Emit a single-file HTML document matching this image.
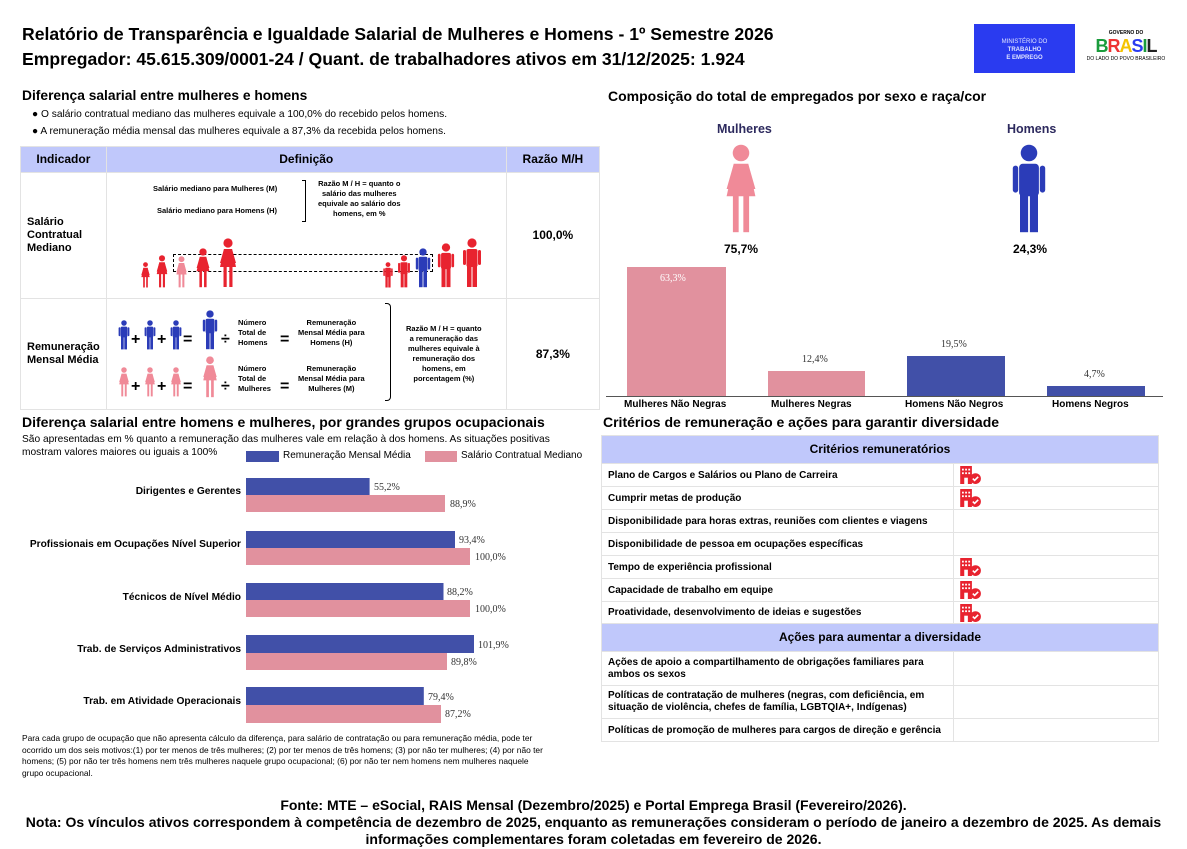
<!DOCTYPE html>
<html><head><meta charset="utf-8"><style>
*{margin:0;padding:0;box-sizing:border-box}
body{width:1187px;height:849px;background:#fff;font-family:"Liberation Sans",Arial,sans-serif;color:#000;position:relative;overflow:hidden}
.a{position:absolute;white-space:nowrap}
.b{font-weight:bold}
table{border-collapse:collapse;position:absolute}
td{border:1px solid #e3e3e3;font-size:10px;font-weight:bold;padding:0 6px;line-height:11px}
td svg{display:block}
.h{background:#c0c8fb;text-align:center;font-size:12px}
</style></head><body>
<svg width="0" height="0" style="position:absolute"><defs>
<symbol id="w" viewBox="0 0 20 50"><circle cx="10" cy="5" r="4.6"/><path d="M6 11h8l4 18h-4v0h-12l4-18z"/><rect x="5.5" y="28" width="3.2" height="21"/><rect x="11.3" y="28" width="3.2" height="21"/><path d="M6 11l-4 14h2.5l3.5-12zM14 11l4 14h-2.5l-3.5-12z"/></symbol>
<symbol id="m" viewBox="0 0 20 50"><circle cx="10" cy="5" r="4.6"/><rect x="4.5" y="11" width="11" height="18" rx="2"/><rect x="1" y="12" width="3" height="15" rx="1.5"/><rect x="16" y="12" width="3" height="15" rx="1.5"/><rect x="5" y="28" width="4.5" height="21"/><rect x="10.5" y="28" width="4.5" height="21"/></symbol>
<symbol id="bd" viewBox="0 0 24 20"><rect x="0" y="0" width="13" height="20" fill="#e8232f"/><g fill="#fff"><rect x="2" y="3" width="2" height="2"/><rect x="5.5" y="3" width="2" height="2"/><rect x="9" y="3" width="2" height="2"/><rect x="2" y="7" width="2" height="2"/><rect x="5.5" y="7" width="2" height="2"/><rect x="9" y="7" width="2" height="2"/><rect x="4.5" y="13" width="4" height="7"/></g><circle cx="17" cy="14" r="6" fill="#e8232f"/><path d="M14 14l2 2 4-4" stroke="#fff" stroke-width="1.8" fill="none"/></symbol>
</defs></svg>

<div class="a b" style="left:22px;top:24px;font-size:17.6px">Relatório de Transparência e Igualdade Salarial de Mulheres e Homens - 1º Semestre 2026</div>
<div class="a b" style="left:22px;top:49px;font-size:17.6px">Empregador: 45.615.309/0001-24 / Quant. de trabalhadores ativos em 31/12/2025: 1.924</div>
<div class="a" style="left:974px;top:24px;width:101px;height:49px;background:#2a3bf0;color:#dfe3ff;font-size:6px;text-align:center;line-height:8px;padding-top:14px">MINISTÉRIO DO<br><b>TRABALHO<br>E EMPREGO</b></div>
<div class="a" style="left:1076px;top:24px;width:100px;height:49px;text-align:center;font-size:5px;font-weight:bold">
<div style="margin-top:6px">GOVERNO DO</div>
<div style="font-size:18px;line-height:20px;letter-spacing:-1px;color:#1a9c3c">B<span style="color:#e33">R</span><span style="color:#f5c400">A</span><span style="color:#2a3bf0">S</span>I<span style="color:#222">L</span></div>
<div style="font-weight:normal">DO LADO DO POVO BRASILEIRO</div></div>

<div class="a b" style="left:22px;top:88px;font-size:13.8px">Diferença salarial entre mulheres e homens</div>
<div class="a" style="left:32px;top:109px;font-size:10.2px">● O salário contratual mediano das mulheres equivale a 100,0% do recebido pelos homens.</div>
<div class="a" style="left:32px;top:126px;font-size:10.2px">● A remuneração média mensal das mulheres equivale a 87,3% da recebida pelos homens.</div>

<table style="left:20px;top:146px;width:580px;height:264px">
<tr style="height:26px"><td class="h" style="width:83px">Indicador</td><td class="h" style="width:400px">Definição</td><td class="h">Razão M/H</td></tr>
<tr style="height:126px"><td style="font-size:11px;line-height:13px">Salário<br>Contratual<br>Mediano</td><td></td><td style="text-align:center;font-size:12px">100,0%</td></tr>
<tr><td style="font-size:11px;line-height:13px">Remuneração<br>Mensal Média</td><td></td><td style="text-align:center;font-size:12px">87,3%</td></tr>
</table>
<div class="a b" style="left:153px;top:184px;font-size:7.5px">Salário mediano para Mulheres (M)</div>
<div class="a b" style="left:157px;top:206px;font-size:7.5px">Salário mediano para Homens (H)</div>
<div class="a" style="left:302px;top:180px;width:4px;height:42px;border:1px solid #000;border-left:none"></div>
<div class="a b" style="left:318px;top:179px;font-size:7.5px;text-align:center;line-height:10px">Razão M / H = quanto o<br>salário das mulheres<br>equivale ao salário dos<br>homens, em %</div>
<div class="a" style="left:173px;top:254px;width:260px;height:18px;border:1px dashed #000"></div>
<svg class="a" style="left:130px;top:238px" width="370" height="50">
<g fill="#e8232f"><use href="#w" x="10" y="24" width="11" height="26"/><use href="#w" x="25" y="17" width="14" height="33"/></g>
<use href="#w" x="44" y="18" width="15" height="32" fill="#f08a98"/>
<g fill="#e8232f"><use href="#w" x="63" y="10" width="20" height="40"/><use href="#w" x="86" y="0" width="24" height="50"/>
<use href="#m" x="252" y="24" width="12" height="26"/><use href="#m" x="267" y="17" width="14" height="33"/></g>
<use href="#m" x="284" y="10" width="18" height="40" fill="#2b3cb8"/>
<g fill="#e8232f"><use href="#m" x="305" y="5" width="22" height="45"/><use href="#m" x="329" y="0" width="26" height="50"/></g>
</svg>
<svg class="a" style="left:115px;top:310px" width="280" height="90" font-family="Liberation Sans" font-weight="bold">
<g fill="#2b3cb8"><use href="#m" x="3" y="10" width="12" height="30"/><use href="#m" x="29" y="10" width="12" height="30"/><use href="#m" x="55" y="10" width="12" height="30"/><use href="#m" x="84" y="0" width="22" height="40"/></g>
<g fill="#f08a98"><use href="#w" x="3" y="57" width="12" height="30"/><use href="#w" x="29" y="57" width="12" height="30"/><use href="#w" x="55" y="57" width="12" height="30"/><use href="#w" x="84" y="46" width="22" height="42"/></g>
<g font-size="16"><text x="16" y="34">+</text><text x="42" y="34">+</text><text x="68" y="34">=</text><text x="106" y="34">÷</text><text x="165" y="34">=</text>
<text x="16" y="81">+</text><text x="42" y="81">+</text><text x="68" y="81">=</text><text x="106" y="81">÷</text><text x="165" y="81">=</text></g>
</svg>
<div class="a b" style="left:238px;top:318px;font-size:7.5px;line-height:10px">Número<br>Total de<br>Homens</div>
<div class="a b" style="left:238px;top:364px;font-size:7.5px;line-height:10px">Número<br>Total de<br>Mulheres</div>
<div class="a b" style="left:298px;top:318px;font-size:7.5px;line-height:10px;text-align:center">Remuneração<br>Mensal Média para<br>Homens (H)</div>
<div class="a b" style="left:298px;top:364px;font-size:7.5px;line-height:10px;text-align:center">Remuneração<br>Mensal Média para<br>Mulheres (M)</div>
<div class="a" style="left:385px;top:303px;width:6px;height:98px;border:1px solid #000;border-left:none;border-radius:0 4px 4px 0"></div>
<div class="a b" style="left:406px;top:324px;font-size:7.5px;line-height:10px;text-align:center">Razão M / H = quanto<br>a remuneração das<br>mulheres equivale à<br>remuneração dos<br>homens, em<br>porcentagem (%)</div>

<div class="a b" style="left:608px;top:88px;font-size:14px">Composição do total de empregados por sexo e raça/cor</div>
<div class="a b" style="left:717px;top:122px;font-size:12.5px;color:#2d2a5e">Mulheres</div>
<div class="a b" style="left:1007px;top:122px;font-size:12.5px;color:#2d2a5e">Homens</div>
<svg class="a" style="left:716px;top:144px" width="50" height="90"><use href="#w" x="0" y="0" width="50" height="90" fill="#f08a98"/></svg>
<svg class="a" style="left:1004px;top:144px" width="50" height="90"><use href="#m" x="0" y="0" width="50" height="90" fill="#2b3cb8"/></svg>
<div class="a b" style="left:724px;top:242px;font-size:12px">75,7%</div>
<div class="a b" style="left:1013px;top:242px;font-size:12px">24,3%</div>
<div class="a" style="left:627px;top:267px;width:99px;height:129px;background:#e1919e"></div>
<div class="a" style="left:768px;top:371px;width:97px;height:25px;background:#e1919e"></div>
<div class="a" style="left:907px;top:356px;width:98px;height:40px;background:#4150a8"></div>
<div class="a" style="left:1047px;top:386px;width:98px;height:10px;background:#4150a8"></div>
<div class="a" style="left:606px;top:396px;width:557px;height:1px;background:#555"></div>
<div class="a" style="left:660px;top:273px;font-size:10px;color:#fff;font-family:'Liberation Serif',serif">63,3%</div>
<div class="a" style="left:802px;top:354px;font-size:10px;color:#333;font-family:'Liberation Serif',serif">12,4%</div>
<div class="a" style="left:941px;top:339px;font-size:10px;color:#333;font-family:'Liberation Serif',serif">19,5%</div>
<div class="a" style="left:1084px;top:369px;font-size:10px;color:#333;font-family:'Liberation Serif',serif">4,7%</div>
<div class="a b" style="left:624px;top:399px;font-size:10px">Mulheres Não Negras</div>
<div class="a b" style="left:771px;top:399px;font-size:10px">Mulheres Negras</div>
<div class="a b" style="left:905px;top:399px;font-size:10px">Homens Não Negros</div>
<div class="a b" style="left:1052px;top:399px;font-size:10px">Homens Negros</div>

<div class="a b" style="left:603px;top:414px;font-size:14px">Critérios de remuneração e ações para garantir diversidade</div>
<table style="left:601px;top:435px;width:558px">
<tr style="height:28px"><td colspan="2" class="h">Critérios remuneratórios</td></tr>
<tr style="height:23px"><td style="width:352px">Plano de Cargos e Salários ou Plano de Carreira</td><td><svg width="22" height="18"><use href="#bd"/></svg></td></tr>
<tr style="height:23px"><td>Cumprir metas de produção</td><td><svg width="22" height="18"><use href="#bd"/></svg></td></tr>
<tr style="height:23px"><td>Disponibilidade para horas extras, reuniões com clientes e viagens</td><td></td></tr>
<tr style="height:23px"><td>Disponibilidade de pessoa em ocupações específicas</td><td></td></tr>
<tr style="height:23px"><td>Tempo de experiência profissional</td><td><svg width="22" height="18"><use href="#bd"/></svg></td></tr>
<tr style="height:23px"><td>Capacidade de trabalho em equipe</td><td><svg width="22" height="18"><use href="#bd"/></svg></td></tr>
<tr style="height:22px"><td>Proatividade, desenvolvimento de ideias e sugestões</td><td><svg width="22" height="18"><use href="#bd"/></svg></td></tr>
<tr style="height:28px"><td colspan="2" class="h">Ações para aumentar a diversidade</td></tr>
<tr style="height:34px"><td style="white-space:normal;line-height:12px">Ações de apoio a compartilhamento de obrigações familiares para ambos os sexos</td><td></td></tr>
<tr style="height:33px"><td style="white-space:normal;line-height:12px">Políticas de contratação de mulheres (negras, com deficiência, em situação de violência, chefes de família, LGBTQIA+, Indígenas)</td><td></td></tr>
<tr style="height:23px"><td>Políticas de promoção de mulheres para cargos de direção e gerência</td><td></td></tr>
</table>

<div class="a b" style="left:22px;top:414px;font-size:14px">Diferença salarial entre homens e mulheres, por grandes grupos ocupacionais</div>
<div class="a" style="left:22px;top:433px;font-size:10.2px;line-height:13px">São apresentadas em % quanto a remuneração das mulheres vale em relação à dos homens. As situações positivas<br>mostram valores maiores ou iguais a 100%</div>
<div class="a" style="left:246px;top:451px;width:33px;height:11px;background:#4150a8"></div>
<div class="a" style="left:283px;top:450px;font-size:10px">Remuneração Mensal Média</div>
<div class="a" style="left:425px;top:451px;width:32px;height:11px;background:#e1919e"></div>
<div class="a" style="left:461px;top:450px;font-size:10px">Salário Contratual Mediano</div>

<div class="a b" style="right:946px;top:486px;font-size:10.2px">Dirigentes e Gerentes</div>
<div class="a b" style="right:946px;top:539px;font-size:10.2px">Profissionais em Ocupações Nível Superior</div>
<div class="a b" style="right:946px;top:592px;font-size:10.2px">Técnicos de Nível Médio</div>
<div class="a b" style="right:946px;top:644px;font-size:10.2px">Trab. de Serviços Administrativos</div>
<div class="a b" style="right:946px;top:696px;font-size:10.2px">Trab. em Atividade Operacionais</div>
<svg class="a" style="left:246px;top:470px" width="160" height="260" font-family="Liberation Serif" font-size="10" fill="#333" overflow="visible">
<g fill="#4150a8"><rect y="8" width="123.6" height="17"/><rect y="61" width="209" height="17"/><rect y="113" width="197.5" height="17"/><rect y="165" width="228" height="18"/><rect y="217" width="177.8" height="18"/></g>
<g fill="#e1919e"><rect y="25" width="199" height="17"/><rect y="78" width="224" height="17"/><rect y="130" width="224" height="17"/><rect y="183" width="201" height="17"/><rect y="235" width="195" height="18"/></g>
<text x="128" y="20">55,2%</text><text x="204" y="37">88,9%</text>
<text x="213" y="73">93,4%</text><text x="229" y="90">100,0%</text>
<text x="201" y="125">88,2%</text><text x="229" y="142">100,0%</text>
<text x="232" y="178">101,9%</text><text x="205" y="195">89,8%</text>
<text x="182" y="230">79,4%</text><text x="199" y="247">87,2%</text>
</svg>
<div class="a" style="left:22px;top:733px;font-size:8.4px;line-height:11.5px">Para cada grupo de ocupação que não apresenta cálculo da diferença, para salário de contratação ou para remuneração média, pode ter<br>ocorrido um dos seis motivos:(1) por ter menos de três mulheres; (2) por ter menos de três homens; (3) por não ter mulheres; (4) por não ter<br>homens; (5) por não ter três homens nem três mulheres naquele grupo ocupacional; (6) por não ter nem homens nem mulheres naquele<br>grupo ocupacional.</div>

<div class="a b" style="left:0;width:1187px;text-align:center;top:797px;font-size:14px;line-height:17px">Fonte: MTE – eSocial, RAIS Mensal (Dezembro/2025) e Portal Emprega Brasil (Fevereiro/2026).<br>Nota: Os vínculos ativos correspondem à competência de dezembro de 2025, enquanto as remunerações consideram o período de janeiro a dezembro de 2025. As demais<br>informações complementares foram coletadas em fevereiro de 2026.</div>
</body></html>
